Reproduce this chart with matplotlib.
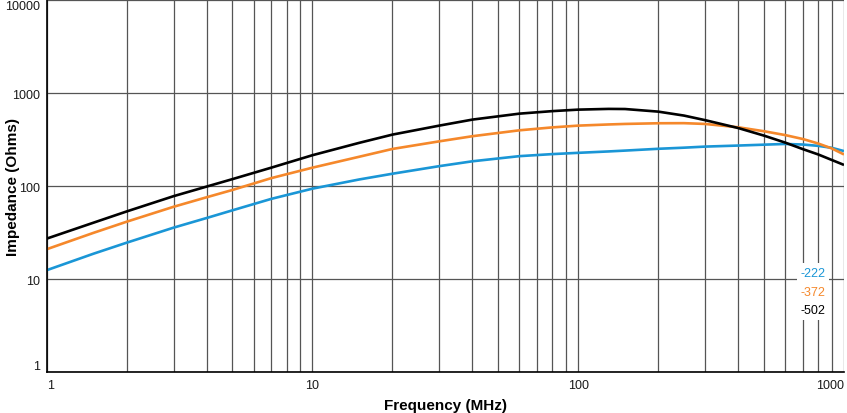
import matplotlib.pyplot as plt
from matplotlib.ticker import LogLocator, NullFormatter, FixedLocator

plt.rcParams['font.family'] = ['Liberation Sans', 'DejaVu Sans']

# frequency points (MHz)
freq = [1, 1.5, 2, 3, 4, 5, 7, 10, 15, 20, 30, 40, 60, 80, 100, 130, 150,
        200, 250, 300, 400, 500, 600, 700, 800, 900, 1000]

# impedance (Ohms) for each part
z_222 = [12.5, 18.8, 24.7, 35.8, 45.5, 55, 73, 94, 118, 136, 164, 185, 210,
         221, 228, 236, 241, 252, 259, 266, 273, 279, 284, 280, 271, 258, 238]
z_372 = [21, 31.5, 41.5, 60, 76, 91, 122, 158, 207, 251, 303, 344, 398,
         428, 447, 460, 466, 474, 475, 466, 429, 389, 354, 321, 287, 254, 219]
z_502 = [27.3, 40.5, 53.5, 78, 99, 119, 158, 215, 292, 358, 447, 519, 601,
         640, 664, 676, 674, 632, 573, 512, 421, 349, 294, 250, 219, 191, 169]

labels = ['-222', '-372', '-502']
colours = ['#1a96d6', '#f5882b', '#000000']

xticks = [1, 10, 100, 1000]
yticks = [1, 10, 100, 1000, 10000]

fig = plt.figure(figsize=(8.47, 4.14), dpi=100)
ax = fig.add_axes([46.7 / 847, 1 - 373.3 / 414, 797.3 / 847, 372.3 / 414])

for vals, lab, col in zip([z_222, z_372, z_502], labels, colours):
    ax.plot(freq, vals, color=col, linewidth=1.9, label=lab,
            solid_capstyle='butt', solid_joinstyle='round', zorder=3)

ax.set_xscale('log')
ax.set_yscale('log')
ax.set_xlim(1, 1000)
ax.set_ylim(1, 10000)

ax.xaxis.set_major_locator(FixedLocator(xticks))
ax.xaxis.set_minor_locator(LogLocator(base=10, subs=range(2, 10)))
ax.xaxis.set_minor_formatter(NullFormatter())
ax.yaxis.set_major_locator(FixedLocator(yticks))
ax.yaxis.set_minor_locator(FixedLocator([]))
ax.set_xticklabels([str(t) for t in xticks])
ax.set_yticklabels([str(t) for t in yticks])

ax.grid(True, which='both', axis='x', color='#555555', linewidth=0.9)
ax.grid(True, which='major', axis='y', color='#555555', linewidth=0.9)

ax.tick_params(which='both', length=0, labelsize=9, pad=5,
               labelcolor='#1a1a1a')
xl = ax.get_xticklabels()
xl[0].set_ha('left')
xl[-1].set_ha('right')
yl = ax.get_yticklabels()
yl[0].set_va('bottom')
yl[-1].set_va('top')

for s in ['top', 'right']:
    ax.spines[s].set_visible(False)
for s in ['left', 'bottom']:
    ax.spines[s].set_linewidth(1.2)
    ax.spines[s].set_zorder(4)

ax.set_xlabel('Frequency (MHz)', fontsize=11, fontweight='bold', labelpad=5)
ax.set_ylabel('Impedance (Ohms)', fontsize=11, fontweight='bold')
ax.yaxis.set_label_coords(-0.033, 0.5)

leg = ax.legend(loc='upper left', bbox_to_anchor=(0.941, 0.293),
                handlelength=0, handletextpad=0, labelcolor='linecolor',
                fontsize=9, frameon=True, fancybox=False, framealpha=1,
                borderpad=0.3, labelspacing=0.53, borderaxespad=0)
leg.get_frame().set_edgecolor('none')
for h in leg.legend_handles:
    h.set_visible(False)
leg.set_zorder(5)

fig.savefig('out.png', dpi=100)
